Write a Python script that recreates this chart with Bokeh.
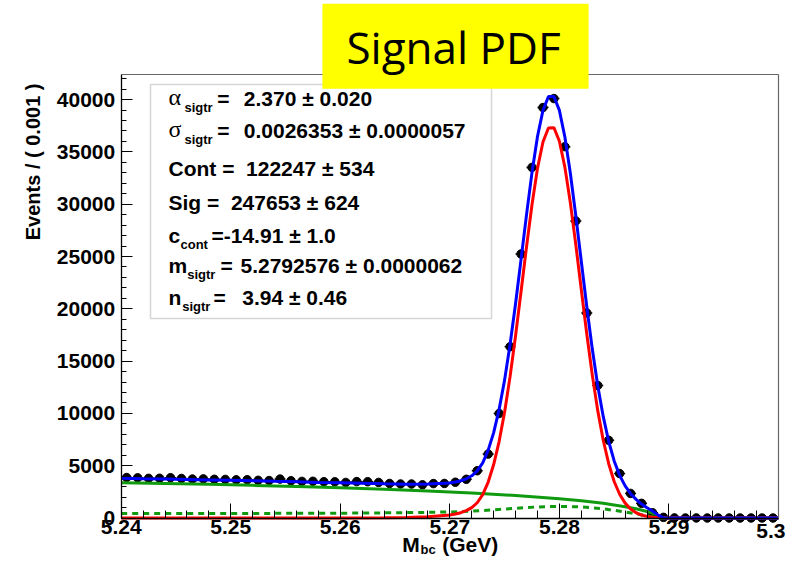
import math
from bokeh.plotting import figure
from bokeh.models import (Label, BoxAnnotation, FixedTicker, NumeralTickFormatter,
                          CustomJSTickFormatter, Range1d, ColumnDataSource, LinearAxis)
from bokeh.embed import file_html
from bokeh.resources import INLINE

# ---------------- data ----------------
bin_centers = [5.2405, 5.2415, 5.2425, 5.2435, 5.2445, 5.2455, 5.2465, 5.2475, 5.2485, 5.2495,
               5.2505, 5.2515, 5.2525, 5.2535, 5.2545, 5.2555, 5.2565, 5.2575, 5.2585, 5.2595,
               5.2605, 5.2615, 5.2625, 5.2635, 5.2645, 5.2655, 5.2665, 5.2675, 5.2685, 5.2695,
               5.2705, 5.2715, 5.2725, 5.2735, 5.2745, 5.2755, 5.2765, 5.2775, 5.2785, 5.2795,
               5.2805, 5.2815, 5.2825, 5.2835, 5.2845, 5.2855, 5.2865, 5.2875, 5.2885, 5.2895,
               5.2905, 5.2915, 5.2925, 5.2935, 5.2945, 5.2955, 5.2965, 5.2975, 5.2985, 5.2995]
events = [3870, 3840, 3790, 3800, 3850, 3780, 3720, 3740, 3700, 3690,
          3650, 3660, 3600, 3580, 3720, 3560, 3500, 3510, 3470, 3460,
          3400, 3480, 3470, 3400, 3300, 3250, 3250, 3170, 3290, 3300,
          3420, 3700, 4520, 6110, 9990, 16380, 25240, 33520, 39240, 40100,
          35500, 28400, 19600, 12670, 7430, 4250, 2350, 1400, 500, 60,
          10, 0, 5, 0, 3, 0, 0, 2, 0, 0]

total_x = [5.240, 5.242, 5.244, 5.246, 5.248, 5.250, 5.252, 5.254, 5.256, 5.258,
           5.260, 5.262, 5.264, 5.266, 5.268,
           5.2700, 5.2705, 5.2710, 5.2715, 5.2720, 5.2725, 5.2730, 5.2735, 5.2740, 5.2745,
           5.2750, 5.2755, 5.2760, 5.2765, 5.2770, 5.2775, 5.2780, 5.2785, 5.2790, 5.2795,
           5.2800, 5.2805, 5.2810, 5.2815, 5.2820, 5.2825, 5.2830, 5.2835, 5.2840, 5.2845,
           5.2850, 5.2855, 5.2860, 5.2865, 5.2870, 5.2875, 5.2880, 5.2885, 5.2890, 5.2895,
           5.2900, 5.2950, 5.3000]
total_y = [3800, 3762, 3725, 3685, 3643, 3600, 3553, 3503, 3456, 3405,
           3360, 3313, 3268, 3237, 3242,
           3357, 3440, 3564, 3748, 4034, 4500, 5273, 6484, 8161, 10388,
           13204, 16611, 20511, 24723, 29002, 33039, 36478, 38973, 40292, 40294,
           38970, 36431, 32955, 28872, 24523, 20191, 16174, 12652, 9710, 7313,
           5457, 4078, 3073, 2325, 1782, 1332, 973, 663, 280, 20,
           8, 0, 0]

signal_x = [5.240, 5.250, 5.260, 5.264, 5.266, 5.268,
            5.2700, 5.2705, 5.2710, 5.2715, 5.2720, 5.2725, 5.2730, 5.2735, 5.2740, 5.2745,
            5.2750, 5.2755, 5.2760, 5.2765, 5.2770, 5.2775, 5.2780, 5.2785, 5.2790, 5.2795,
            5.2800, 5.2805, 5.2810, 5.2815, 5.2820, 5.2825, 5.2830, 5.2835, 5.2840, 5.2845,
            5.2850, 5.2855, 5.2860, 5.2865, 5.2870, 5.2875, 5.2880, 5.2885, 5.2890, 5.2895,
            5.2900, 5.2950, 5.3000]
signal_y = [1, 2, 10, 28, 52, 112,
            287, 378, 509, 701, 994, 1458, 2228, 3436, 5111, 7330,
            10139, 13538, 17431, 21650, 25937, 29976, 33423, 35945, 37287, 37316,
            36020, 33543, 30130, 26109, 21823, 17596, 13684, 10267, 7430, 5190,
            3492, 2270, 1423, 860, 502, 282, 153, 80, 40, 20,
            8, 0, 0]

cont_x = [5.240, 5.244, 5.248, 5.252, 5.256, 5.260, 5.264, 5.268, 5.272, 5.276,
          5.280, 5.282, 5.284, 5.286, 5.287, 5.288, 5.2887, 5.2893, 5.300]
cont_y = [3380, 3300, 3215, 3120, 3010, 2890, 2750, 2590, 2390, 2150,
          1840, 1640, 1400, 1070, 880, 620, 400, 0, 0]

peak_x = [5.240, 5.250, 5.260, 5.265, 5.268, 5.270, 5.272, 5.274, 5.276, 5.278,
          5.280, 5.282, 5.284, 5.286, 5.287, 5.288, 5.289, 5.2893, 5.300]
peak_y = [420, 430, 460, 500, 540, 580, 650, 780, 930, 1060,
          1110, 1060, 880, 580, 400, 200, 40, 0, 0]

x_major_ticks = [5.24, 5.25, 5.26, 5.27, 5.28, 5.29, 5.30]
y_major_ticks = [0, 5000, 10000, 15000, 20000, 25000, 30000, 35000, 40000]
bin_width = 0.001
X_LO, X_HI = 5.24, 5.30
Y_LO, Y_HI = 0, 42400

# ---------------- geometry (canvas pixels) ----------------
W, H = 786, 557
FR_L, FR_R = 120.7, 778.0      # pixel of X_LO / X_HI
FR_0 = 517.5                   # pixel of y = 0
PX_PER_Y = 0.01046             # pixels per event
PX_PER_X = (FR_R - FR_L) / (X_HI - X_LO)

x_start = X_LO - FR_L / PX_PER_X
x_end = X_HI + (W - FR_R) / PX_PER_X
y_start = -(H - FR_0) / PX_PER_Y
y_end = FR_0 / PX_PER_Y

p = figure(width=W, height=H, x_range=Range1d(x_start, x_end), y_range=Range1d(y_start, y_end),
           output_backend="svg", toolbar_location=None, title=None,
           min_border_left=0, min_border_right=0, min_border_top=0, min_border_bottom=0)
p.background_fill_color = "white"
p.border_fill_color = "white"
p.outline_line_color = None
p.xgrid.visible = False
p.ygrid.visible = False

FONT = "Liberation Sans"

p.xaxis.fixed_location = Y_LO
p.xaxis.bounds = (X_LO, X_HI)
p.xaxis.ticker = FixedTicker(ticks=x_major_ticks,
                             minor_ticks=[X_LO + 0.002 * i for i in range(31)])
p.xaxis.formatter = CustomJSTickFormatter(
    code="const v = Math.round(tick*100)/100; return v > 5.295 ? '' : v.toString();")
p.yaxis.fixed_location = X_LO
p.yaxis.bounds = (Y_LO, Y_HI)
p.yaxis.ticker = FixedTicker(ticks=y_major_ticks, minor_ticks=[1000 * i for i in range(43)])
p.yaxis.formatter = NumeralTickFormatter(format="0")

for ax in (p.xaxis[0], p.yaxis[0]):
    ax.axis_line_color = "black"
    ax.axis_line_width = 1.3
    ax.major_tick_line_color = "black"
    ax.minor_tick_line_color = "black"
    ax.major_tick_out = 0
    ax.minor_tick_out = 0
    ax.major_label_text_font = FONT
    ax.major_label_text_font_style = "bold"
    ax.major_label_text_font_size = "21px"
    ax.major_label_text_color = "black"
p.xaxis.major_tick_in = 15
p.xaxis.minor_tick_in = 8
p.xaxis.major_label_standoff = 2
p.yaxis.major_tick_in = 11
p.yaxis.minor_tick_in = 5
p.yaxis.major_label_standoff = 6

# frame lines (top / right) as bare axes
top_ax = LinearAxis(fixed_location=Y_HI, bounds=(X_LO, X_HI), ticker=FixedTicker(ticks=[]),
                    axis_line_color="#666666", axis_line_width=1.2,
                    major_tick_line_color=None, minor_tick_line_color=None)
right_ax = LinearAxis(fixed_location=X_HI, bounds=(Y_LO, Y_HI), ticker=FixedTicker(ticks=[]),
                      axis_line_color="#666666", axis_line_width=1.2,
                      major_tick_line_color=None, minor_tick_line_color=None)
p.add_layout(top_ax, "above")
p.add_layout(right_ax, "right")

# ---------------- data points ----------------
src = ColumnDataSource(dict(
    x=bin_centers, y=events,
    x0=[c - bin_width / 2 for c in bin_centers], x1=[c + bin_width / 2 for c in bin_centers],
    ylo=[max(v - math.sqrt(v), 0) for v in events], yhi=[v + math.sqrt(max(v, 1)) for v in events]))
p.segment(x0="x0", y0="y", x1="x1", y1="y", source=src, line_color="black", line_width=1.5)
p.segment(x0="x", y0="ylo", x1="x", y1="yhi", source=src, line_color="black", line_width=1.5)
p.scatter(x="x", y="y", source=src, size=8.5, color="black")

# ---------------- curves ----------------
p.line(peak_x, peak_y, line_color="#109a10", line_width=3, line_dash="6 5")
p.line(cont_x, cont_y, line_color="#109a10", line_width=3)
p.line(signal_x, signal_y, line_color="#ff0000", line_width=3)
p.line(total_x, total_y, line_color="#0000ff", line_width=3)

# ---------------- annotations (canvas pixel helpers; frame == canvas) ----------------
def X(px):
    return px

def Y(py):
    return H - py

MID = {"Liberation Sans": 0.35, "Liberation Serif": 0.34, "Open Sans": 0.40}

def lab(text, x, y, size=21, font=FONT, style="bold", align="left", angle=0.0, **kw):
    """y is the wanted text baseline (canvas px, from top); anchored via the text middle."""
    yc = y - MID[font] * size
    l = Label(x=X(x), y=Y(yc), x_units="screen", y_units="screen", text=text,
              text_font=font, text_font_size=f"{size}px", text_font_style=style,
              text_color="black", text_align=align, text_baseline="middle", angle=angle, **kw)
    p.add_layout(l)
    return l

# stats box
p.add_layout(BoxAnnotation(left=X(150), right=X(491), top=Y(84), bottom=Y(318),
                           left_units="screen", right_units="screen",
                           top_units="screen", bottom_units="screen",
                           fill_color="white", fill_alpha=1.0,
                           line_color="#777777", line_width=1.5))

GREEK = "Liberation Serif"
NB = "\u00a0"
# line 1
lab("\u03b1", 168, 105, size=24, font=GREEK, style="normal")
lab("sigtr", 184, 111.5, size=13)
lab("=", 216.7, 105)
lab("2.370 \u00b1 0.020", 243.3, 105)
# line 2
lab("\u03c3", 168, 137, size=24, font=GREEK, style="normal")
lab("sigtr", 184, 143.5, size=13)
lab("=", 216.7, 137)
lab("0.0026353 \u00b1 0.0000057", 243.3, 137)
# line 3
lab("Cont =" + NB + " 122247 \u00b1 534", 168, 175)
# line 4
lab("Sig =" + NB + " 247653 \u00b1 624", 168, 209)
# line 5
lab("c", 168, 242)
lab("cont", 180, 248.5, size=13)
lab("=-14.91 \u00b1 1.0", 211, 242)
# line 6
lab("m", 168, 272)
lab("sigtr", 186.7, 278.5, size=13)
lab("=", 220, 272)
lab("5.2792576 \u00b1 0.0000062", 240, 272)
# line 7
lab("n", 168, 304)
lab("sigtr", 181.7, 310.5, size=13)
lab("=", 213, 304)
lab("3.94 \u00b1 0.46", 241.7, 304)

# axis titles
p.add_layout(Label(x=X(32), y=Y(83), x_units="screen", y_units="screen",
                   text="Events / ( 0.001 )", text_font=FONT, text_font_size="20px",
                   text_font_style="bold", text_color="black", text_align="right",
                   text_baseline="middle", angle=math.pi / 2))
lab("M", 401.7, 551)
lab("bc", 420, 554, size=13)
lab("(GeV)", 441.7, 551)
# last x tick label, kept inside the canvas
lab("5.3", 785, 538, align="right")

# title box
lab("Signal PDF", 455, 63.3, size=44, font="Open Sans", style="normal", align="center",
    background_fill_color="#ffff00", background_fill_alpha=1.0,
    padding=dict(left=24, right=28, top=13, bottom=12))

open("out.html", "w").write(file_html(p, INLINE))
